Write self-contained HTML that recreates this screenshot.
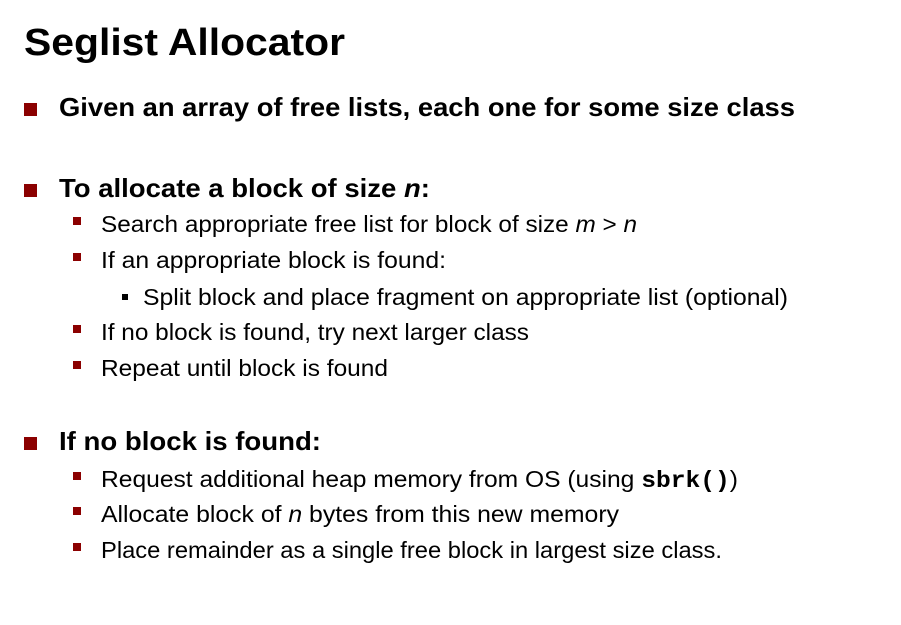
<!DOCTYPE html>
<html><head><meta charset="utf-8"><style>
html,body{margin:0;padding:0;background:#fff;}
svg{display:block;}
text{font-family:"Liberation Sans",sans-serif;fill:#000;}
.b{font-weight:bold;}
</style></head><body>
<svg width="901" height="625" viewBox="0 0 901 625" xmlns="http://www.w3.org/2000/svg">
<text class="b" x="24" y="55" font-size="38" textLength="321" lengthAdjust="spacingAndGlyphs">Seglist Allocator</text>

<rect x="24" y="103" width="13" height="13" fill="#8b0000"/>
<text class="b" x="59" y="116" font-size="26" textLength="736" lengthAdjust="spacingAndGlyphs">Given an array of free lists, each one for some size class</text>

<rect x="24" y="184" width="13" height="13" fill="#8b0000"/>
<text class="b" x="59" y="197" font-size="26" textLength="371" lengthAdjust="spacingAndGlyphs">To allocate a block of size <tspan font-style="italic">n</tspan>:</text>

<rect x="73" y="217" width="8" height="8" fill="#8b0000"/>
<text x="101" y="232" font-size="23" textLength="536" lengthAdjust="spacingAndGlyphs">Search appropriate free list for block of size <tspan font-style="italic">m</tspan> &gt; <tspan font-style="italic">n</tspan></text>
<rect x="73" y="253" width="8" height="8" fill="#8b0000"/>
<text x="101" y="268" font-size="23" textLength="345" lengthAdjust="spacingAndGlyphs">If an appropriate block is found:</text>
<rect x="122" y="294" width="6" height="6" fill="#000"/>
<text x="143" y="305" font-size="23" textLength="645" lengthAdjust="spacingAndGlyphs">Split block and place fragment on appropriate list (optional)</text>
<rect x="73" y="325" width="8" height="8" fill="#8b0000"/>
<text x="101" y="340" font-size="23" textLength="428" lengthAdjust="spacingAndGlyphs">If no block is found, try next larger class</text>
<rect x="73" y="361" width="8" height="8" fill="#8b0000"/>
<text x="101" y="376" font-size="23" textLength="287" lengthAdjust="spacingAndGlyphs">Repeat until block is found</text>

<rect x="24" y="437" width="13" height="13" fill="#8b0000"/>
<text class="b" x="59" y="450" font-size="26" textLength="262" lengthAdjust="spacingAndGlyphs">If no block is found:</text>

<rect x="73" y="472" width="8" height="8" fill="#8b0000"/>
<text x="101" y="487" font-size="23" textLength="637" lengthAdjust="spacingAndGlyphs">Request additional heap memory from OS (using <tspan font-family="Liberation Mono, monospace" font-weight="bold">sbrk()</tspan>)</text>
<rect x="73" y="507" width="8" height="8" fill="#8b0000"/>
<text x="101" y="522" font-size="23" textLength="518" lengthAdjust="spacingAndGlyphs">Allocate block of <tspan font-style="italic">n</tspan> bytes from this new memory</text>
<rect x="73" y="543" width="8" height="8" fill="#8b0000"/>
<text x="101" y="558" font-size="23" textLength="621" lengthAdjust="spacingAndGlyphs">Place remainder as a single free block in largest size class.</text>
</svg>
</body></html>
